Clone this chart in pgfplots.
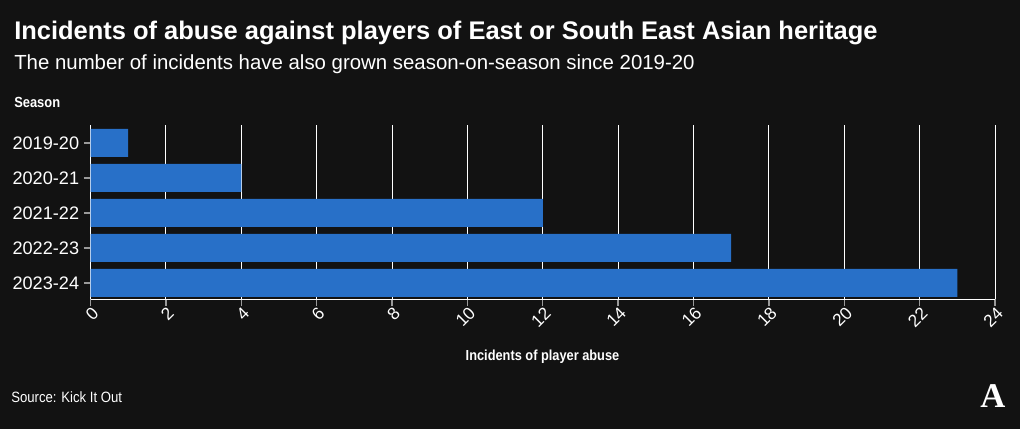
\documentclass[border=0pt]{standalone}
\usepackage{pgfplots}
\pgfplotsset{compat=1.18}
\usepackage{fontspec}
\setmainfont{Liberation Sans}
\newfontfamily\condfont{Liberation Sans}[FakeStretch=0.88]
\newfontfamily\logofont{Liberation Serif}
\definecolor{bg}{HTML}{121212}
\definecolor{barblue}{HTML}{2870C8}
\definecolor{tickgray}{HTML}{9A9A9A}
\begin{document}
\begin{tikzpicture}[x=0.75pt,y=0.75pt]
\fill[bg] (0,0) rectangle (1020,429);
\begin{axis}[
  at={(67.875pt,97.5pt)}, anchor=south west,
  scale only axis, width=678.375pt, height=130.5pt,
  xmin=0, xmax=24, ymin=-0.51, ymax=4.46, y dir=reverse,
  axis lines*=left,
  axis line style={white, line width=0.75pt},
  xtick={0,2,...,24},
  xmajorgrids, grid style={white, line width=0.75pt},
  ytick={0,1,2,3,4},
  yticklabels={2019-20,2020-21,2021-22,2022-23,2023-24},
  tick style={tickgray, line width=1pt},
  major tick length=5pt, tick align=outside,
  yticklabel style={white, font=\fontsize{13.6}{13.6}\selectfont},
  xticklabel style={white, font=\fontsize{13}{13}\selectfont, xshift=4.5pt, yshift=-2.5pt, rotate=45, anchor=east, inner sep=1pt},
  /pgf/number format/assume math mode=true,
  xbar, bar width=21pt,
]
\addplot[draw=none, fill=barblue] coordinates {(1,0) (4,1) (12,2) (17,3) (23,4)};
\end{axis}
\node[anchor=base west, inner sep=0, white, font=\bfseries\fontsize{19.1}{19.1}\selectfont] at (14,389) {Incidents of abuse against players of East or South East Asian heritage};
\node[anchor=base west, inner sep=0, white, font=\fontsize{15.3}{15.3}\selectfont] at (14,359) {The number of incidents have also grown season-on-season since 2019-20};
\node[anchor=base west, inner sep=0, white, font=\condfont\bfseries\fontsize{11}{11}\selectfont] at (14,321) {Season};
\node[anchor=base, inner sep=0, white, font=\condfont\bfseries\fontsize{10.9}{10.9}\selectfont] at (542.5,69) {Incidents of player abuse};
\node[anchor=base west, inner sep=0, white, font=\condfont\fontsize{11.2}{11.2}\selectfont] at (11,27) {Source: Kick It Out};
\node[anchor=center, inner sep=0, white, font=\logofont\bfseries\fontsize{26}{26}\selectfont] at (993,33) {A};
\end{tikzpicture}
\end{document}
